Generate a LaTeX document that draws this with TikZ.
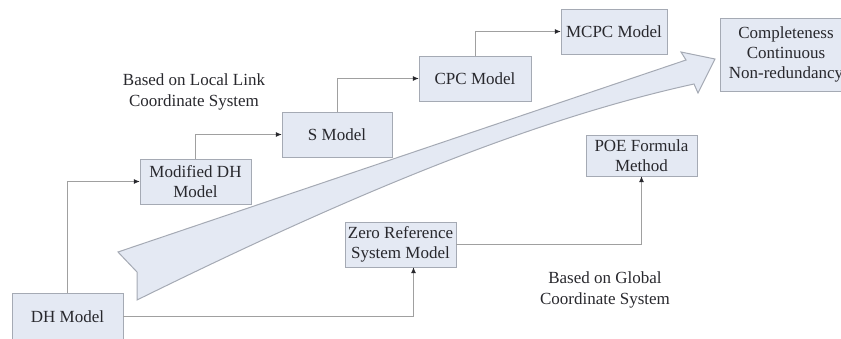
\documentclass[tikz,border=0pt]{standalone}
\usepackage{fontspec}
\setmainfont{Liberation Serif}
\usetikzlibrary{arrows.meta}

\definecolor{boxfill}{RGB}{228,233,243}
\definecolor{boxline}{RGB}{165,170,180}
\definecolor{wire}{RGB}{160,160,160}
\definecolor{ink}{RGB}{40,40,45}

\tikzset{
  model/.style={draw=boxline, fill=boxfill, text=ink, align=center,
    inner sep=2pt, font=\fontsize{17}{20}\selectfont},
  note/.style={text=ink, align=center, font=\fontsize{17}{21.5}\selectfont},
  link/.style={draw=wire, thick, -{Latex[length=6pt,width=5pt,color=ink]}}
}

\begin{document}
\begin{tikzpicture}[x=1pt, y=-1pt]
    \useasboundingbox (0,0) rectangle (841,338);

    % the wide arrow running up to the goals
    \filldraw[fill=boxfill, draw=boxline, line width=1pt, line join=miter]
      (118,252) -- (137,272) -- (137,300)
      .. controls (330,205) and (520,122) .. (694,84)
      -- (698,93) -- (715,59) -- (681,52) -- (686,60) -- cycle;

    % local link branch
    \node[model, minimum width=111pt, minimum height=47pt] (dh) at (67.5,316.5) {DH Model};
    \node[model, minimum width=111pt, minimum height=45pt] (mdh) at (195.5,181.5) {Modified DH\\Model};
    \node[model, minimum width=110pt, minimum height=45pt] (sm) at (337,134.5) {S Model};
    \node[model, minimum width=112pt, minimum height=45pt] (cpc) at (475,78.5) {CPC Model};
    \node[model, minimum width=106pt, minimum height=45pt] (mcpc) at (614,31.5) {MCPC Model};
    \node[model, minimum width=132pt, minimum height=73pt] (goal) at (786,54.5)
      {Completeness\\Continuous\\Non-redundancy};

    % global branch
    \node[model, minimum width=111pt, minimum height=45pt] (zero) at (400.5,244.5) {Zero Reference\\System Model};
    \node[model, minimum width=111pt, minimum height=41pt] (poe) at (641.5,155.5) {POE Formula\\Method};

    \node[note] (local) at (194,92) {Based on Local Link\\Coordinate System};
    \node[note] (global) at (605,290) {Based on Global\\Coordinate System};

    \draw[link] (dh.north) |- (mdh.west);
    \draw[link] (mdh.north) |- (sm.west);
    \draw[link] (sm.north) |- (cpc.west);
    \draw[link] (cpc.north) |- (mcpc.west);
    \draw[link] (dh.east) -| ([xshift=13pt]zero.south);
    \draw[link] (zero.east) -| (poe.south);
  \end{tikzpicture}
\end{document}
